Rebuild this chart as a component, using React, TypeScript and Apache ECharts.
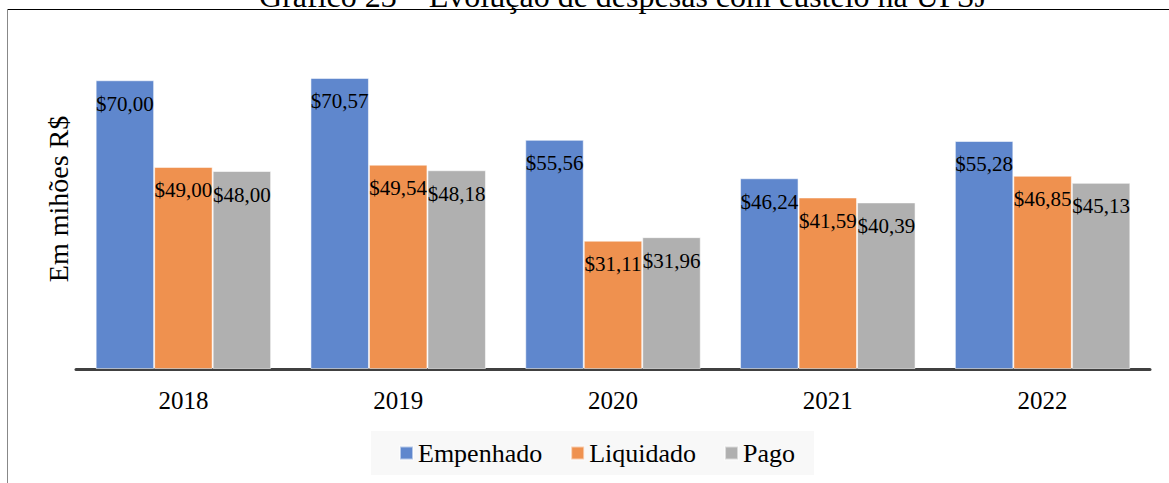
import React, { useEffect, useRef } from "react";
import * as echarts from "echarts";

const categories = ["2018", "2019", "2020", "2021", "2022"];
const seriesNames = ["Empenhado", "Liquidado", "Pago"];
const empenhado = [70.0, 70.57, 55.56, 46.24, 55.28];
const liquidado = [49.0, 49.54, 31.11, 41.59, 46.85];
const pago = [48.0, 48.18, 31.96, 40.39, 45.13];
const colors = ["#5F87CD", "#EF914F", "#B0B0B0"];
const titleText = "Gráfico 23 – Evolução de despesas com custeio na UFSJ";
const yName = "Em mihões R$";

const FONT = "Liberation Serif";

export default function App() {
  const ref = useRef<HTMLDivElement>(null);
  useEffect(() => {
    if (!ref.current) return;
    const chart = echarts.init(ref.current, undefined, { renderer: "svg" });
    const values = [empenhado, liquidado, pago];
    chart.setOption({
      animation: false,
      backgroundColor: "#ffffff",
      textStyle: { fontFamily: FONT },
      grid: { left: 76, right: 19, top: 39, bottom: 114 },
      legend: {
        data: seriesNames,
        left: 371,
        top: 431,
        padding: [9, 19, 9, 28],
        backgroundColor: "#F8F8F8",
        itemGap: 28,
        itemWidth: 13,
        itemHeight: 13,
        icon: "rect",
        textStyle: { fontFamily: FONT, fontSize: 26, color: "#000" },
      },
      xAxis: {
        type: "category",
        data: categories,
        axisLine: { lineStyle: { color: "#404040", width: 3 } },
        axisTick: { show: false },
        axisLabel: { fontFamily: FONT, fontSize: 25, color: "#000", margin: 19 },
      },
      yAxis: {
        type: "value",
        min: 0,
        max: 80,
        axisLine: { show: false },
        axisTick: { show: false },
        axisLabel: { show: false },
        splitLine: { show: false },
      },
      series: seriesNames.map((n, i) => ({
        name: n,
        type: "bar",
        data: values[i],
        barWidth: 58.5,
        barGap: "0%",
        itemStyle: { color: colors[i], borderColor: "rgba(255,255,255,0.55)", borderWidth: 1 },
        label: {
          show: true,
          position: "insideTop",
          distance: 13,
          fontFamily: FONT,
          fontSize: 21,
          color: "#000",
          formatter: (p: any) => "$" + Number(p.value).toFixed(2).replace(".", ","),
        },
      })),
      graphic: [
        {
          type: "line",
          shape: { x1: 7, y1: 9.5, x2: 1169, y2: 9.5 },
          style: { stroke: "#000", lineWidth: 1 },
        },
        {
          type: "line",
          shape: { x1: 7.5, y1: 9, x2: 7.5, y2: 483 },
          style: { stroke: "#888", lineWidth: 1 },
        },
        {
          type: "text",
          x: 623,
          y: -4,
          style: {
            text: titleText,
            fontFamily: FONT,
            fontSize: 32,
            fill: "#000",
            align: "center",
            verticalAlign: "middle",
          },
        },
        {
          type: "text",
          x: 58,
          y: 199,
          rotation: Math.PI / 2,
          style: {
            text: yName,
            fontFamily: FONT,
            fontSize: 28,
            fill: "#000",
            align: "center",
            verticalAlign: "middle",
          },
        },
      ],
    });
    return () => chart.dispose();
  }, []);
  return (
    <div
      ref={ref}
      style={{ position: "fixed", left: 0, top: 0, width: 1169, height: 483 }}
    />
  );
}
